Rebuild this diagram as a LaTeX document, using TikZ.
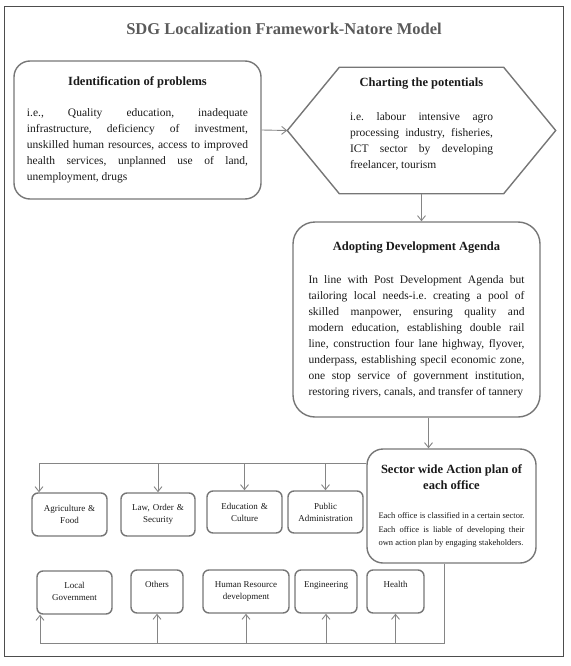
\documentclass[tikz,border=0pt]{standalone}
\usepackage{fontspec}
\setmainfont{Liberation Serif}
\usetikzlibrary{calc,arrows.meta}

\definecolor{framegray}{HTML}{4D4D4D}
\definecolor{boxgray}{HTML}{767676}
\definecolor{linegray}{HTML}{858585}
\definecolor{titlegray}{HTML}{5A5A5A}
\definecolor{textgray}{HTML}{1A1A1A}

\setlength{\parindent}{0pt}
\frenchspacing
\newcommand{\boxtitle}[1]{{\centering\fontsize{12.5}{15}\selectfont\bfseries #1\par}}
\newcommand{\lowtext}[2]{\parbox[t][35pt][t]{#1}{\centering\rule{0pt}{13pt}#2}}

\begin{document}
\begin{tikzpicture}[x=1pt,y=-1pt,
    >={Straight Barb[length=5pt,width=8pt]},
    bigbox/.style={draw=boxgray,line width=1.4pt,align=justify,text=textgray,
        font=\fontsize{11.5}{16}\selectfont},
    smallbox/.style={draw=boxgray,line width=1.4pt,rounded corners=6pt,align=center,
        inner sep=4pt,text=textgray,font=\fontsize{9}{12}\selectfont},
    link/.style={draw=linegray,line width=0.9pt}]

    \useasboundingbox (0,0) rectangle (570,666);

    % Cadre et titre
    \draw[framegray,line width=1pt] (4,7) rectangle (563,656);
    \node[text=titlegray,font=\fontsize{16.5}{20}\selectfont\bfseries] (title) at (284,29)
        {SDG Localization Framework-Natore Model};

    % Problemes
    \node[bigbox,rounded corners=16pt,text width=221pt,inner xsep=13pt,minimum height=138pt] (ident) at (137.5,130)
        {\boxtitle{Identification of problems}\vspace{15pt}
        i.e., Quality education, inadequate\linebreak
        infrastructure, deficiency of investment,\linebreak
        unskilled human resources, access to improved\linebreak
        health services, unplanned use of land,\linebreak
        unemployment, drugs};

    % Potentiels (hexagone)
    \node[bigbox,draw=none,text width=143pt,inner xsep=10pt,minimum height=125pt] (chart) at (421.5,130.5)
        {\boxtitle{Charting the potentials}\vspace{18pt}
        i.e. labour intensive agro\linebreak
        processing industry, fisheries,\linebreak
        ICT sector by developing\linebreak
        freelancer, tourism\par\vspace{12pt}};
    \draw[draw=boxgray,line width=1.4pt] (chart.north west) -- (chart.north east)
        -- ($(chart.east)+(52,0)$) -- (chart.south east) -- (chart.south west)
        -- ($(chart.west)+(-52,0)$) coordinate (hexw) -- cycle;

    % Agenda
    \node[bigbox,rounded corners=22pt,text width=216pt,inner xsep=15.5pt,minimum height=195pt] (adopt) at (416.5,319.5)
        {\boxtitle{Adopting Development Agenda}\vspace{17pt}
        In line with Post Development Agenda but\linebreak
        tailoring local needs-i.e. creating a pool of\linebreak
        skilled manpower, ensuring quality and\linebreak
        modern education, establishing double rail\linebreak
        line, construction four lane highway, flyover,\linebreak
        underpass, establishing specil economic zone,\linebreak
        one stop service of government institution,\linebreak
        restoring rivers, canals, and transfer of tannery};

    % Plan d'action
    \node[bigbox,rounded corners=16pt,text width=146pt,inner xsep=11.5pt,minimum height=114pt,
        font=\fontsize{8.5}{13.5}\selectfont] (sector) at (451.5,506)
        {{\centering\fontsize{12.5}{16.5}\selectfont\bfseries Sector wide Action plan of\\ each office\par}\vspace{15.5pt}
        Each office is classified in a certain sector.\linebreak
        Each office is liable of developing their\linebreak
        own action plan by engaging stakeholders.};

    % Secteurs, rangee du haut
    \node[smallbox,text width=67pt,minimum height=43pt] (agri) at (69.5,514.5) {Agriculture \&\\ Food};
    \node[smallbox,text width=66pt,minimum height=43pt] (law) at (158,514.5) {Law, Order \&\\ Security};
    \node[smallbox,text width=67pt,minimum height=42pt] (edu) at (244.5,512) {Education \&\\ Culture};
    \node[smallbox,text width=67pt,minimum height=42pt] (public) at (325.5,512) {Public\\ Administration};

    % Secteurs, rangee du bas
    \node[smallbox,minimum width=75pt] (local) at (74.5,592.5) {\lowtext{67pt}{Local\\ Government}};
    \node[smallbox,minimum width=52pt] (others) at (157,591.5) {\lowtext{44pt}{Others}};
    \node[smallbox,minimum width=86pt] (hr) at (246,591.5) {\lowtext{78pt}{Human Resource\\ development}};
    \node[smallbox,minimum width=62pt] (eng) at (326,591.5) {\lowtext{54pt}{Engineering}};
    \node[smallbox,minimum width=57pt] (health) at (395.5,591.5) {\lowtext{49pt}{Health}};

    % Fleches principales
    \draw[link,->] (ident.east) -- (hexw);
    \draw[link,->] (chart.south) -- (chart.south |- adopt.north);
    \draw[link,->] ([xshift=12pt]adopt.south) -- ([xshift=12pt]adopt.south |- sector.north);

    % Distribution vers la rangee du haut
    \coordinate (topbus) at (39,463.5);
    \draw[link] (topbus) -- (topbus -| sector.west);
    \draw[link,->] (topbus) -- (topbus |- agri.north);
    \draw[link,->] (law.north |- topbus) -- (law.north);
    \draw[link,->] (edu.north |- topbus) -- (edu.north);
    \draw[link,->] (public.north |- topbus) -- (public.north);

    % Distribution vers la rangee du bas
    \coordinate (lowbus) at (40,643);
    \draw[link] ([xshift=-7pt]sector.south) -- ([xshift=-7pt]sector.south |- lowbus) -- (lowbus);
    \draw[link,->] (lowbus) -- (lowbus |- local.south);
    \draw[link,->] (others.south |- lowbus) -- (others.south);
    \draw[link,->] (hr.south |- lowbus) -- (hr.south);
    \draw[link,->] (eng.south |- lowbus) -- (eng.south);
    \draw[link,->] (health.south |- lowbus) -- (health.south);

\end{tikzpicture}
\end{document}
